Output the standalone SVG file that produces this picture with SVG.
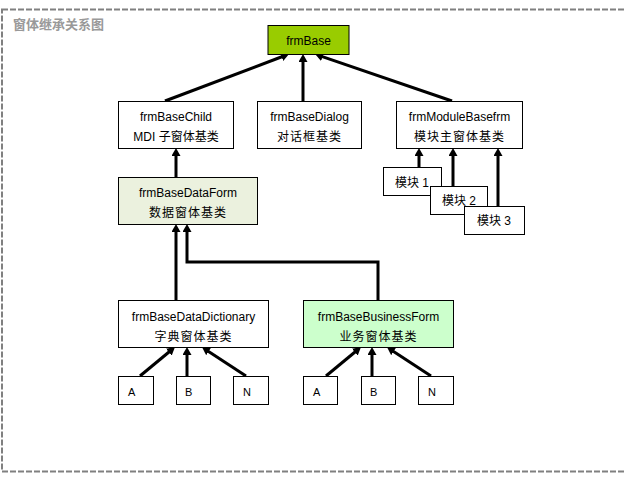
<svg xmlns="http://www.w3.org/2000/svg" width="626" height="481" viewBox="0 0 626 481">
<style>
.box{stroke:#000;stroke-width:1;fill:#fff}
.t{font-family:"Liberation Sans","Noto Sans CJK SC",sans-serif;font-size:12px;fill:#000;text-anchor:middle}
.cj{letter-spacing:1px}
.s{font-family:"Liberation Sans",sans-serif;font-size:11px;fill:#000}
.c{fill:none;stroke:#000;stroke-width:3;marker-end:url(#arr)}
</style>
<defs>
<marker id="arr" viewBox="0 0 8 9" refX="1" refY="4.5" markerWidth="8" markerHeight="9" markerUnits="userSpaceOnUse" orient="auto">
<path d="M0,0 L8,4.5 L0,9 z" fill="#000"/>
</marker>
</defs>
<rect x="2" y="9.5" width="640" height="462" fill="none" stroke="#808080" stroke-width="2" stroke-dasharray="6 2"/>
<text x="13" y="29" font-family="'Noto Sans CJK SC',sans-serif" font-size="13" font-weight="bold" fill="#999">窗体继承关系图</text>

<g id="connectors">
<path class="c" d="M165,101 L282.5,56.5"/>
<path class="c" d="M303,101 L303,61"/>
<path class="c" d="M452,101 L321.6,56.3"/>
<path class="c" d="M176,177 L176,155"/>
<path class="c" d="M176,300 L176,231"/>
<path class="c" d="M378,300 V262 H187 V231"/>
<path class="c" d="M419,167 L419,155"/>
<path class="c" d="M453,186 L453,155"/>
<path class="c" d="M498,206 L498,155"/>
<path class="c" d="M140,376 L169.6,351.5"/>
<path class="c" d="M187,376 L187,354"/>
<path class="c" d="M246,376 L207.8,350.9"/>
<path class="c" d="M326,376 L355.6,351.5"/>
<path class="c" d="M372,376 L372,354"/>
<path class="c" d="M431,376 L392.8,350.9"/>
</g>

<g id="frmBase"><rect class="box" x="268" y="25.5" width="81" height="29" fill="#99CC00" style="fill:#99CC00"/><text class="t" x="308.5" y="45">frmBase</text></g>
<g id="frmBaseChild"><rect class="box" x="118.5" y="101.5" width="115" height="47"/><text class="t" x="176" y="121">frmBaseChild</text><text class="t" x="176" y="141">MDI 子窗体基类</text></g>
<g id="frmBaseDialog"><rect class="box" x="257.5" y="101.5" width="104" height="47"/><text class="t" x="309.5" y="121">frmBaseDialog</text><text class="t cj" x="309.5" y="141">对话框基类</text></g>
<g id="frmModuleBasefrm"><rect class="box" x="396.5" y="101.5" width="126" height="47"/><text class="t" x="459.5" y="121">frmModuleBasefrm</text><text class="t cj" x="459.5" y="141">模块主窗体基类</text></g>
<g id="frmBaseDataForm"><rect class="box" x="118.5" y="177.5" width="139" height="47" style="fill:#EBF1DE"/><text class="t" x="188" y="197">frmBaseDataForm</text><text class="t cj" x="188" y="217">数据窗体基类</text></g>
<g id="module1"><rect class="box" x="383.5" y="167.5" width="58" height="28"/><text class="t" x="412" y="187">模块 1</text></g>
<g id="module2"><rect class="box" x="430.5" y="186.5" width="57" height="28"/><text class="t" x="459" y="205">模块 2</text></g>
<g id="module3"><rect class="box" x="464.5" y="206.5" width="60" height="28"/><text class="t" x="494" y="225">模块 3</text></g>
<g id="frmBaseDataDictionary"><rect class="box" x="118.5" y="300.5" width="150" height="47"/><text class="t" x="193.5" y="321">frmBaseDataDictionary</text><text class="t cj" x="193.5" y="341">字典窗体基类</text></g>
<g id="frmBaseBusinessForm"><rect class="box" x="303.5" y="300.5" width="150" height="47" style="fill:#CCFFCC"/><text class="t" x="378.5" y="321">frmBaseBusinessForm</text><text class="t cj" x="378.5" y="341">业务窗体基类</text></g>
<g id="A1"><rect class="box" x="118.5" y="376.5" width="35" height="28"/><text class="s" x="128" y="396">A</text></g>
<g id="B1"><rect class="box" x="176.5" y="376.5" width="34" height="28"/><text class="s" x="185" y="396">B</text></g>
<g id="N1"><rect class="box" x="233.5" y="376.5" width="35" height="28"/><text class="s" x="243" y="396">N</text></g>
<g id="A2"><rect class="box" x="303.5" y="376.5" width="34" height="28"/><text class="s" x="313" y="396">A</text></g>
<g id="B2"><rect class="box" x="361.5" y="376.5" width="34" height="28"/><text class="s" x="370" y="396">B</text></g>
<g id="N2"><rect class="box" x="418.5" y="376.5" width="35" height="28"/><text class="s" x="428" y="396">N</text></g>
</svg>
